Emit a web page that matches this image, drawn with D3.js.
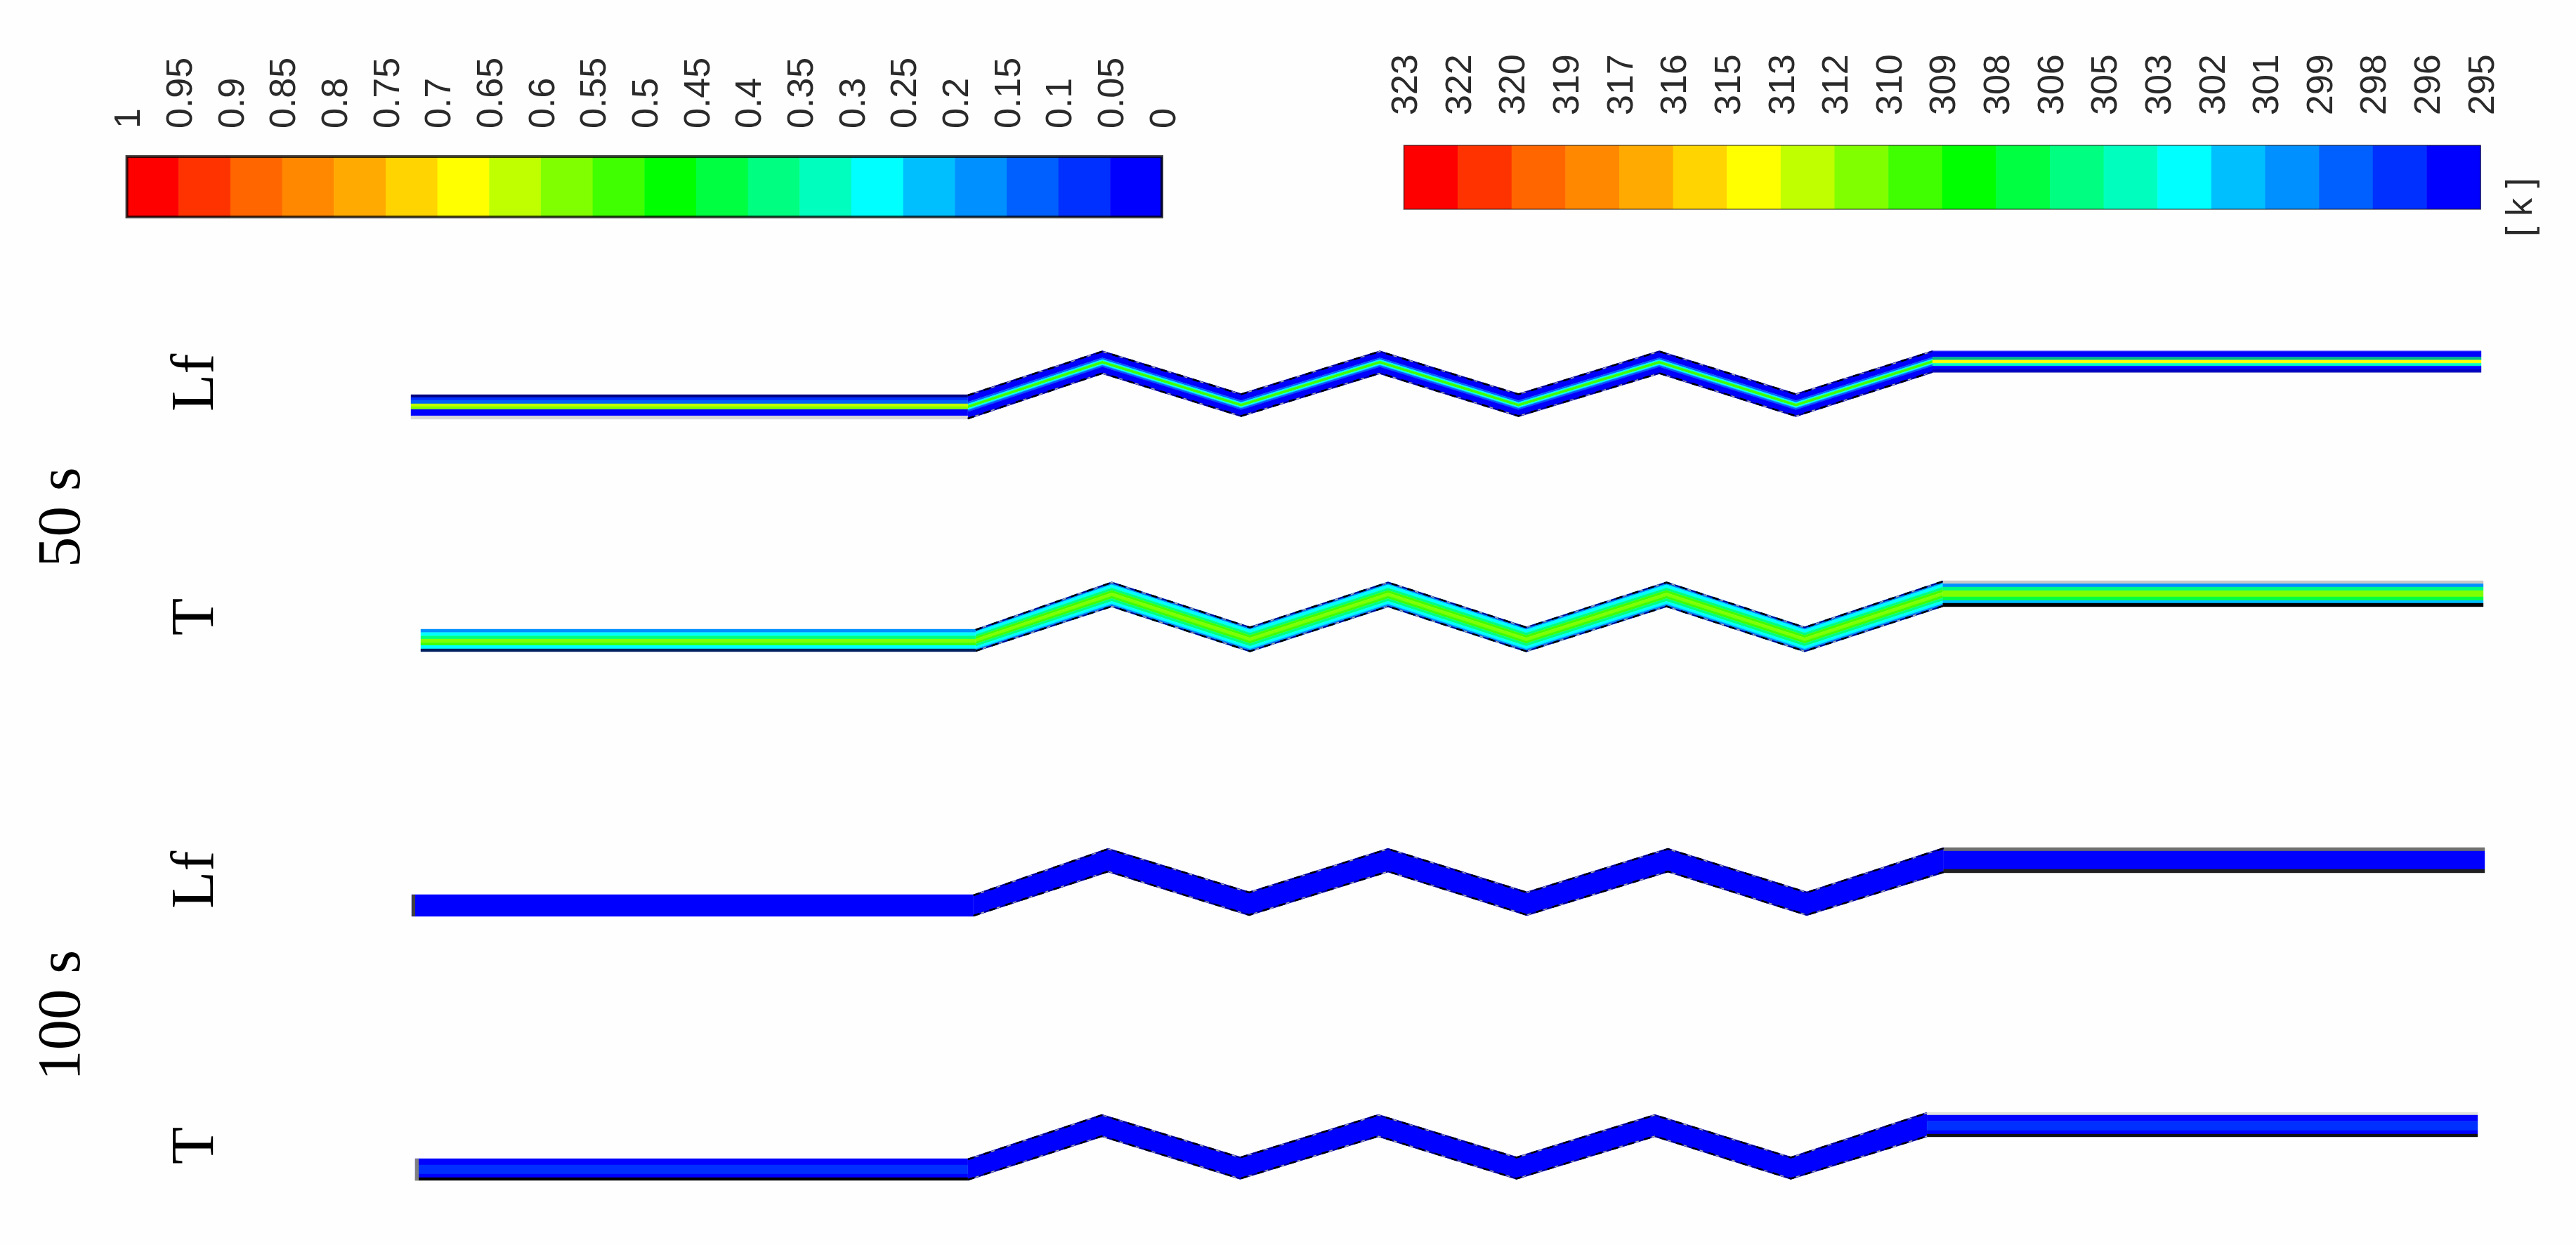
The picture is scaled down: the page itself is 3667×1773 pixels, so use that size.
<!DOCTYPE html>
<html>
<head>
<meta charset="utf-8">
<title>Lf and T contours</title>
<script src="https://cdn.jsdelivr.net/npm/d3@7"></script>
<style>
  html, body { margin: 0; padding: 0; background: #fff; overflow: hidden; }
  svg { display: block; }
  .bar-label text { font-family: "Liberation Sans", Arial, sans-serif; font-size: 52px; fill: #2a2a2a; }
  .serif { font-family: "Liberation Serif", "Times New Roman", serif; font-size: 87px; fill: #000; }
</style>
</head>
<body>
<div id="chart"></div>
<script>
// legend tick labels, read left to right
const lfTicks = ["1", "0.95", "0.9", "0.85", "0.8", "0.75", "0.7", "0.65", "0.6", "0.55", "0.5",
  "0.45", "0.4", "0.35", "0.3", "0.25", "0.2", "0.15", "0.1", "0.05", "0"];
const tempTicks = ["323", "322", "320", "319", "317", "316", "315", "313", "312", "310", "309",
  "308", "306", "305", "303", "302", "301", "299", "298", "296", "295"];
const legendColors = ["#ff0000", "#ff3300", "#ff6600", "#ff8800", "#ffaa00", "#ffd400", "#ffff00",
  "#bfff00", "#80ff00", "#40ff00", "#00ff00", "#00ff40", "#00ff80", "#00ffbf", "#00ffff",
  "#00bfff", "#0090ff", "#0060ff", "#0030ff", "#0000ff"];

const rowLabels = ["Lf", "T", "Lf", "T"];
const timeLabels = ["50 s", "100 s"];

// channel centreline: axial position (% of length) of each corner, one list per panel
const lf50Axial = [0, 26.9, 33.4, 40.1, 46.8, 53.5, 60.3, 66.9, 73.5, 100];
const t50Axial = [0, 26.9, 33.5, 40.2, 46.9, 53.6, 60.4, 67.1, 73.8, 100];
const lf100Axial = [0, 27.1, 33.6, 40.4, 47.1, 53.8, 60.6, 67.3, 73.9, 100];
const t100Axial = [0, 26.8, 33.3, 40.0, 46.7, 53.4, 60.1, 66.7, 73.3, 100];
// 0 = low level, 1 = high level of the zigzag
const centreLevel = [0, 0, 1, 0, 1, 0, 1, 0, 1, 1];

// contour bands across the channel, top wall to bottom wall.
// breaks are fractions of the channel depth, values are Lf or T, null is a wall pixel row
const lf50LeftBreaks = [0, .114, .229, .371, .486, .6, .866, 1];
const lf50LeftValues = [null, .075, .125, .625, .575, .025, null];
const lf50MidBreaks = [0, .3, .38, .44, .56, .62, .7, 1];
const lf50MidValues = [.025, .125, .275, .525, .275, .125, .025];
const lf50RightBreaks = [0, .03, .29, .43, .57, .7, .85, .98, 1];
const lf50RightValues = [null, .025, .325, .675, .325, .025, .025, null];

const t50LeftBreaks = [0, .147, .3, .44, .6, .72, .875, 1];
const t50LeftValues = [299.9, 302.7, 305.5, 311.1, 309.7, 302.7, null];
const t50MidBreaks = [0, .12, .24, .34, .44, .56, .66, .77, .88, 1];
const t50MidValues = [299.9, 302.7, 305.5, 309.7, 311.1, 309.7, 305.5, 302.7, 299.9];
const t50RightBreaks = [0, .116, .243, .378, .62, .757, .865, 1];
const t50RightValues = [null, 299.9, 305.5, 311.1, 306.9, 301.3, null];

const lf100LeftBreaks = [0, 1];
const lf100LeftValues = [.025];
const lf100MidBreaks = [0, 1];
const lf100MidValues = [.025];
const lf100RightBreaks = [0, .14, .86, 1];
const lf100RightValues = [null, .025, null];

const t100LeftBreaks = [0, .29, .71, .87, 1];
const t100LeftValues = [295.7, 297.1, 295.7, null];
const t100MidBreaks = [0, 1];
const t100MidValues = [295.7];
const t100RightBreaks = [0, .114, .363, .743, .886, 1];
const t100RightValues = [null, 295.7, 297.1, 295.7, null];

const width = 3667;
const height = 1773;

const svg = d3.select("#chart").append("svg")
  .attr("width", width)
  .attr("height", height);

svg.append("rect")
  .attr("width", width)
  .attr("height", height)
  .attr("fill", "#fefefe");

const lfColor = d3.scaleQuantize().domain([0, 1]).range(legendColors.slice().reverse());
const tempColor = d3.scaleQuantize().domain([295, 323]).range(legendColors.slice().reverse());

// colour bars
function drawLegend(ticks, box) {
  const x = d3.scalePoint().domain(ticks).range([box.x0, box.x1]);
  const g = svg.append("g");

  g.selectAll("rect.segment")
    .data(legendColors)
    .enter()
    .append("rect")
    .attr("class", "segment")
    .attr("x", (d, i) => x(ticks[i]))
    .attr("y", box.y0)
    .attr("width", (d, i) => x(ticks[i + 1]) - x(ticks[i]) + 0.5)
    .attr("height", box.y1 - box.y0)
    .attr("fill", d => d);

  g.append("rect")
    .attr("x", box.x0)
    .attr("y", box.y0)
    .attr("width", box.x1 - box.x0)
    .attr("height", box.y1 - box.y0)
    .attr("fill", "none")
    .attr("stroke", "#000")
    .attr("stroke-opacity", box.edgeOpacity)
    .attr("stroke-width", box.edge);

  const axis = g.append("g")
    .attr("class", "bar-label")
    .attr("transform", `translate(0,${box.labelY})`)
    .call(d3.axisTop(x).tickSize(0).offset(0));
  axis.select(".domain").remove();
  axis.selectAll("text")
    .attr("x", 0)
    .attr("y", 0)
    .attr("dy", "0.36em")
    .attr("text-anchor", "start")
    .attr("transform", "rotate(-90)");
}

drawLegend(lfTicks, { x0: 180.6, x1: 1654, y0: 223, y1: 309, labelY: 183, edge: 4, edgeOpacity: 0.75 });
drawLegend(tempTicks, { x0: 1998.5, x1: 3531, y0: 207, y1: 298, labelY: 164, edge: 2, edgeOpacity: 0.45 });

svg.append("g")
  .attr("class", "bar-label")
  .append("text")
  .attr("transform", "translate(3604,337) rotate(-90)")
  .text("[ k ]");

// the four channels. xRange and yRange place each one on the page
const panels = [
  {
    axial: lf50Axial, color: lfColor, xRange: [585, 3532], yRange: [577, 516],
    left: { centre: 579.5, depth: 35, breaks: lf50LeftBreaks, values: lf50LeftValues, walls: ["#000080", "#d8d8d8"] },
    mid: { depth: 33, breaks: lf50MidBreaks, values: lf50MidValues },
    right: { centre: 515, depth: 31.4, breaks: lf50RightBreaks, values: lf50RightValues, walls: ["#9090ff", "#7070d0"], shade: { 2: 0.9, 6: 0.8 } }
  },
  {
    axial: t50Axial, color: tempColor, xRange: [599, 3535], yRange: [910.5, 846.5],
    left: { centre: 912, depth: 32, breaks: t50LeftBreaks, values: t50LeftValues, walls: ["#002060"] },
    mid: { depth: 36, breaks: t50MidBreaks, values: t50MidValues },
    right: { centre: 845.5, depth: 37, breaks: t50RightBreaks, values: t50RightValues, walls: ["#c8c8c8", "#000000"] }
  },
  {
    axial: lf100Axial, color: lfColor, xRange: [586, 3537], yRange: [1287, 1225],
    left: { centre: 1289.5, depth: 31, breaks: lf100LeftBreaks, values: lf100LeftValues, walls: [], cap: "#404040" },
    mid: { depth: 34, breaks: lf100MidBreaks, values: lf100MidValues },
    right: { centre: 1225, depth: 36, breaks: lf100RightBreaks, values: lf100RightValues, walls: ["#707070", "#202020"] }
  },
  {
    axial: t100Axial, color: tempColor, xRange: [591, 3527], yRange: [1663.5, 1603],
    left: { centre: 1665.5, depth: 31, breaks: t100LeftBreaks, values: t100LeftValues, walls: ["#000000"], cap: "#808080" },
    mid: { depth: 32, breaks: t100MidBreaks, values: t100MidValues },
    right: { centre: 1601.5, depth: 35, breaks: t100RightBreaks, values: t100RightValues, walls: ["#e0e0e0", "#101010"] }
  }
];

function drawSection(g, points, section, x, color) {
  let wall = 0;
  section.values.forEach((value, i) => {
    const from = section.breaks[i] - 0.5;
    const to = section.breaks[i + 1] - 0.5;
    const area = d3.area()
      .x(d => x(d.axial))
      .y0(d => d.centre + d.depth * from)
      .y1(d => d.centre + d.depth * to);

    let fill = value === null ? section.walls[wall++] : color(value);
    if (section.shade && section.shade[i]) fill = d3.color(fill).darker(section.shade[i]).formatHex();

    g.append("path")
      .datum(points)
      .attr("d", area)
      .attr("fill", fill)
      .attr("stroke", fill)
      .attr("stroke-width", 0.4);
  });
}

panels.forEach(panel => {
  const g = svg.append("g");
  const x = d3.scaleLinear().domain([0, 100]).range(panel.xRange);
  const y = d3.scaleLinear().domain([0, 1]).range(panel.yRange);
  const points = panel.axial.map((axial, i) => ({ axial, centre: y(centreLevel[i]), depth: panel.mid.depth }));

  // zigzag part first, straights go over its ends. its first and last corner meet the straights
  const zigzag = points.slice(1, 9);
  zigzag[0] = { axial: zigzag[0].axial, centre: panel.left.centre, depth: panel.left.depth };
  zigzag[7] = { axial: zigzag[7].axial, centre: panel.right.centre, depth: panel.right.depth };
  drawSection(g, zigzag, panel.mid, x, panel.color);
  drawSection(g, points.slice(0, 2).map(d => ({ axial: d.axial, centre: panel.left.centre, depth: panel.left.depth })), panel.left, x, panel.color);
  drawSection(g, points.slice(8).map(d => ({ axial: d.axial, centre: panel.right.centre, depth: panel.right.depth })), panel.right, x, panel.color);

  // rough stepped outline of the mesh along the sloped walls
  [-0.5, 0.5].forEach(side => {
    const line = d3.line()
      .x(d => x(d.axial))
      .y(d => d.centre + (d.depth - 2) * side);
    g.append("path")
      .datum(zigzag)
      .attr("d", line)
      .attr("fill", "none")
      .attr("stroke", "#00008a")
      .attr("stroke-width", 2);
    g.append("path")
      .datum(zigzag)
      .attr("d", line)
      .attr("fill", "none")
      .attr("stroke", "#000")
      .attr("stroke-width", 2.5)
      .attr("stroke-dasharray", "9 15");
    g.append("path")
      .datum(zigzag)
      .attr("d", line)
      .attr("fill", "none")
      .attr("stroke", "#aaa")
      .attr("stroke-width", 1.5)
      .attr("stroke-dasharray", "5 19")
      .attr("stroke-dashoffset", -11);
  });

  if (panel.left.cap) {
    g.append("rect")
      .attr("x", panel.xRange[0])
      .attr("y", panel.left.centre - panel.left.depth / 2)
      .attr("width", 5)
      .attr("height", panel.left.depth)
      .attr("fill", panel.left.cap);
  }
});

// row and time labels
const rowLabelY = [586, 905, 1294, 1658];
svg.selectAll("text.row")
  .data(rowLabels)
  .enter()
  .append("text")
  .attr("class", "row serif")
  .attr("transform", (d, i) => `translate(303,${rowLabelY[i]}) rotate(-90)`)
  .text(d => d);

const timeLabelY = [808, 1539];
svg.selectAll("text.time")
  .data(timeLabels)
  .enter()
  .append("text")
  .attr("class", "time serif")
  .attr("transform", (d, i) => `translate(113,${timeLabelY[i]}) rotate(-90)`)
  .text(d => d);
</script>
</body>
</html>
